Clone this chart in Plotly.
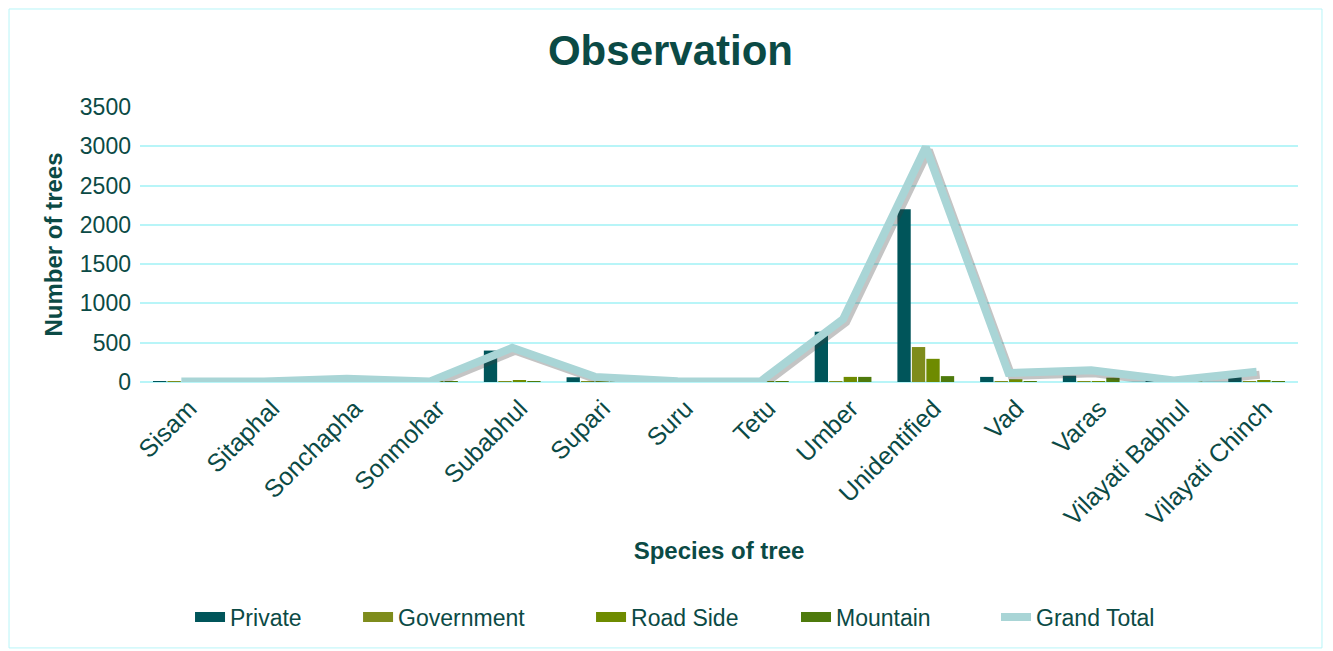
import plotly.graph_objects as go

species = ["Sisam", "Sitaphal", "Sonchapha", "Sonmohar", "Subabhul", "Supari", "Suru",
           "Tetu", "Umber", "Unidentified", "Vad", "Varas", "Vilayati Babhul", "Vilayati Chinch"]
private = [10, 2, 5, 2, 400, 60, 3, 2, 640, 2200, 65, 80, 5, 65]
government = [5, 1, 5, 1, 5, 2, 1, 1, 5, 445, 10, 5, 5, 10]
road_side = [2, 1, 20, 1, 25, 3, 1, 1, 65, 295, 35, 5, 5, 25]
mountain = [1, 1, 10, 1, 5, 2, 1, 1, 65, 75, 5, 55, 5, 5]
grand_total = [5, 5, 40, 5, 435, 65, 10, 5, 800, 2990, 115, 150, 20, 130]

TXT = "#0B4A45"
GRID = "#B8F5F8"
FONT = "Liberation Sans, Arial, sans-serif"
YMAX = 3500

fig = go.Figure()
series = [("Private", private, "#00555A", "legend", 0.0432),
          ("Government", government, "#7E8C1C", "legend2", 0.1883),
          ("Road Side", road_side, "#6E8B00", "legend3", 0.3895),
          ("Mountain", mountain, "#4E7A0C", "legend4", 0.5665)]
legend_pos = {}
for name, vals, col, lg, lx in series:
    fig.add_trace(go.Bar(x=species, y=vals, name=name, legendgroup=name, showlegend=False,
                         marker=dict(color=col, line=dict(width=0))))
    # legend entry drawn as a wide block like the original
    fig.add_trace(go.Scatter(x=[None], y=[None], name=name, legendgroup=name, mode="lines",
                             line=dict(color=col, width=13), hoverinfo="skip", legend=lg))
    legend_pos[lg] = lx
legend_pos["legend5"] = 0.7392

# soft shadow under the total line (same data, axes offset by a few pixels)
fig.add_trace(go.Scatter(x=species, y=grand_total, mode="lines", showlegend=False, hoverinfo="skip",
                         line=dict(color="rgba(60,60,60,0.30)", width=8), xaxis="x2", yaxis="y2"))
fig.add_trace(go.Scatter(x=species, y=grand_total, name="Grand Total", mode="lines",
                         line=dict(color="#A9D5D6", width=8), xaxis="x3", yaxis="y3", legend="legend5"))

W, H = 1325, 643
px_per_unit = 275 / YMAX
dy = 3 / px_per_unit
dx = 3 / (1158 / 14)
hidden = dict(visible=False, fixedrange=True, showgrid=False, zeroline=False)
fig.update_layout(
    width=W, height=H,
    paper_bgcolor="white", plot_bgcolor="white",
    font=dict(family=FONT, color=TXT, size=22),
    title=dict(text="<b>Observation</b>", x=0.5, xanchor="center", y=1 - 42 / H, yanchor="middle",
               font=dict(size=42, color=TXT, family=FONT)),
    margin=dict(l=132, r=35, t=99, b=269),
    barmode="group", bargap=0.3, bargroupgap=0.08,
    xaxis=dict(tickangle=-45, showgrid=False, showline=False, zeroline=False,
               range=[-0.5, len(species) - 0.5],
               tickfont=dict(size=25, color=TXT), ticklabelstandoff=6, ticklabelshift=8,
               title=dict(text="<b>Species of tree</b>", font=dict(size=24, color=TXT), standoff=12)),
    yaxis=dict(range=[0, YMAX], dtick=500, showgrid=True, gridcolor=GRID, gridwidth=2,
               zeroline=True, zerolinecolor=GRID, zerolinewidth=2, showline=False,
               tickfont=dict(size=23, color=TXT), ticklabelstandoff=8,
               title=dict(text="<b>Number of trees</b>", font=dict(size=24, color=TXT), standoff=10)),
    xaxis2=dict(overlaying="x", anchor="y2", range=[-0.5 - dx, len(species) - 0.5 - dx], **hidden),
    yaxis2=dict(overlaying="y", anchor="x2", range=[dy, YMAX + dy], **hidden),
    xaxis3=dict(overlaying="x", anchor="y3", range=[-0.5, len(species) - 0.5], **hidden),
    yaxis3=dict(overlaying="y", anchor="x3", range=[0, YMAX], **hidden),
    showlegend=True,
)
for lg, lx in legend_pos.items():
    fig.update_layout({lg: dict(orientation="h", x=lx, xanchor="left", y=-0.855, yanchor="middle",
                                font=dict(size=23, color=TXT), bgcolor="rgba(0,0,0,0)")})

fig.add_shape(type="rect", xref="paper", yref="paper", x0=-0.1131, x1=1.0207, y0=-0.967, y1=1.3564,
              line=dict(color=GRID, width=1), fillcolor="rgba(0,0,0,0)", layer="below")

fig.write_html("out.html")
